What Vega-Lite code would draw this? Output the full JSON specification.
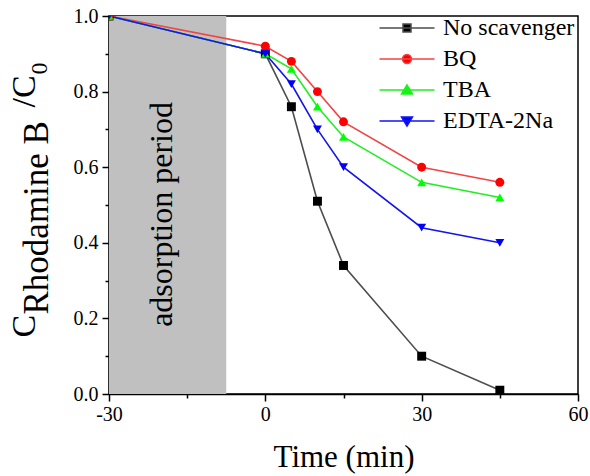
{
  "$schema": "https://vega.github.io/schema/vega-lite/v6.json",
  "width": 469,
  "height": 378,
  "autosize": {"type": "none"},
  "padding": {"left": 109, "top": 16, "right": 12, "bottom": 82},
  "background": "white",
  "config": {
    "font": "Liberation Serif",
    "view": {"stroke": "black", "strokeWidth": 1.5},
    "style": {"guide-label": {"font": "Liberation Serif"}, "guide-title": {"font": "Liberation Serif"}},
    "axis": {
      "grid": false,
      "domainColor": "black",
      "domainWidth": 1.5,
      "tickColor": "black",
      "tickWidth": 1.5,
      "labelColor": "black",
      "titleColor": "black",
      "labelFont": "Liberation Serif",
      "titleFont": "Liberation Serif",
      "titleFontWeight": "normal",
      "labelFontSize": 20,
      "labelFlush": false,
      "labelOverlap": false
    },
    "legend": {"labelFont": "Liberation Serif"}
  },
  "datasets": {
    "main": [
      {"series": "No scavenger", "t": -30, "c": 1.0},
      {"series": "No scavenger", "t": 0, "c": 0.9},
      {"series": "No scavenger", "t": 5, "c": 0.76},
      {"series": "No scavenger", "t": 10, "c": 0.51},
      {"series": "No scavenger", "t": 15, "c": 0.34},
      {"series": "No scavenger", "t": 30, "c": 0.1},
      {"series": "No scavenger", "t": 45, "c": 0.01},
      {"series": "BQ", "t": -30, "c": 1.0},
      {"series": "BQ", "t": 0, "c": 0.92},
      {"series": "BQ", "t": 5, "c": 0.88},
      {"series": "BQ", "t": 10, "c": 0.8},
      {"series": "BQ", "t": 15, "c": 0.72},
      {"series": "BQ", "t": 30, "c": 0.6},
      {"series": "BQ", "t": 45, "c": 0.56},
      {"series": "TBA", "t": -30, "c": 1.0},
      {"series": "TBA", "t": 0, "c": 0.9},
      {"series": "TBA", "t": 5, "c": 0.86},
      {"series": "TBA", "t": 10, "c": 0.76},
      {"series": "TBA", "t": 15, "c": 0.68},
      {"series": "TBA", "t": 30, "c": 0.56},
      {"series": "TBA", "t": 45, "c": 0.52},
      {"series": "EDTA-2Na", "t": -30, "c": 1.0},
      {"series": "EDTA-2Na", "t": 0, "c": 0.9},
      {"series": "EDTA-2Na", "t": 5, "c": 0.82},
      {"series": "EDTA-2Na", "t": 10, "c": 0.7},
      {"series": "EDTA-2Na", "t": 15, "c": 0.6},
      {"series": "EDTA-2Na", "t": 30, "c": 0.44},
      {"series": "EDTA-2Na", "t": 45, "c": 0.4}
    ]
  },
  "layer": [
    {
      "data": {"values": [{"start": -30, "end": -7.5, "lo": 0, "hi": 1}]},
      "mark": {"type": "rect", "color": "#c0c0c0"},
      "encoding": {
        "x": {
          "field": "start", "type": "quantitative",
          "scale": {"domain": [-30, 60], "nice": false, "zero": false},
          "axis": {
            "orient": "bottom", "values": [-30, 0, 30, 60], "tickSize": 7, "labelPadding": 3,
            "labelExpr": "'' + datum.value", "labelFont": "Liberation Serif",
            "title": "Time (min)", "titleFontSize": 31, "titleY": 72, "titleBaseline": "alphabetic"
          }
        },
        "x2": {"field": "end"},
        "y": {
          "field": "lo", "type": "quantitative",
          "scale": {"domain": [0, 1], "nice": false, "zero": false},
          "axis": {
            "orient": "left", "values": [0, 0.2, 0.4, 0.6, 0.8, 1.0], "format": ".1f", "tickSize": 7, "labelPadding": 4,
            "labelFont": "Liberation Serif",
            "title": "C", "titleFontSize": 34, "titleX": -75, "titleY": 321, "titleAlign": "left", "titleBaseline": "alphabetic", "titleAngle": 270
          }
        },
        "y2": {"field": "hi"}
      }
    },
    {
      "data": {"values": [{"label": "adsorption period"}]},
      "mark": {"type": "text", "angle": 270, "fontSize": 32, "font": "Liberation Serif", "color": "black", "align": "center", "baseline": "middle"},
      "encoding": {
        "x": {
          "datum": -19.8, "type": "quantitative",
          "axis": {"orient": "bottom", "values": [-15, 15, 45], "tickSize": 4, "labels": false, "domain": false, "title": null}
        },
        "y": {
          "datum": 0.475, "type": "quantitative",
          "axis": {
            "orient": "left", "values": [0.1, 0.3, 0.5, 0.7, 0.9], "tickSize": 4, "labels": false, "domain": false,
            "title": "Rhodamine B", "titleFontSize": 35, "titleX": -62, "titleY": 298, "titleAlign": "left", "titleBaseline": "alphabetic", "titleAngle": 270
          }
        },
        "text": {"field": "label"}
      }
    },
    {
      "data": {"name": "main"},
      "mark": {"type": "line", "strokeWidth": 1.6, "clip": true},
      "encoding": {
        "x": {"field": "t", "type": "quantitative", "axis": null},
        "y": {
          "field": "c", "type": "quantitative",
          "axis": {
            "orient": "left", "labels": false, "ticks": false, "domain": false,
            "title": "/C", "titleFontSize": 34, "titleX": -75, "titleY": 91, "titleAlign": "left", "titleBaseline": "alphabetic", "titleAngle": 270
          }
        },
        "color": {
          "field": "series", "type": "nominal",
          "scale": {"domain": ["No scavenger", "BQ", "TBA", "EDTA-2Na"], "range": ["#4d4d4d", "#f24444", "#22ee22", "#1414f0"]},
          "legend": null
        },
        "order": {"field": "t"}
      }
    },
    {
      "data": {"name": "main"},
      "mark": {"type": "point", "filled": true, "opacity": 1, "size": 80, "clip": true},
      "encoding": {
        "x": {"field": "t", "type": "quantitative", "axis": null},
        "y": {
          "field": "c", "type": "quantitative",
          "axis": {
            "orient": "left", "labels": false, "ticks": false, "domain": false,
            "title": "0", "titleFontSize": 24, "titleX": -63, "titleY": 58, "titleAlign": "left", "titleBaseline": "alphabetic", "titleAngle": 270
          }
        },
        "color": {
          "field": "series", "type": "nominal",
          "scale": {"domain": ["No scavenger", "BQ", "TBA", "EDTA-2Na"], "range": ["#000000", "#ff0000", "#00ff00", "#0000ff"]},
          "legend": null
        },
        "shape": {
          "field": "series", "type": "nominal",
          "scale": {"domain": ["No scavenger", "BQ", "TBA", "EDTA-2Na"], "range": ["square", "circle", "triangle-up", "triangle-down"]},
          "legend": null
        }
      }
    },
    {
      "data": {"values": []},
      "mark": {"type": "point", "filled": true, "opacity": 1, "strokeWidth": 1.5},
      "encoding": {
        "color": {
          "field": "series", "type": "nominal",
          "scale": {"domain": ["No scavenger", "BQ", "TBA", "EDTA-2Na"], "range": ["#000000", "#ff0000", "#00ff00", "#0000ff"]},
          "legend": {
            "title": null, "orient": "none", "legendX": 286, "legendY": 0, "padding": 0,
            "labelFontSize": 24, "labelFont": "Liberation Serif", "labelColor": "black",
            "symbolSize": 400, "symbolStrokeWidth": 1.5, "labelOffset": 24, "rowPadding": 7, "labelLimit": 300
          }
        },
        "stroke": {
          "field": "series", "type": "nominal",
          "scale": {"domain": ["No scavenger", "BQ", "TBA", "EDTA-2Na"], "range": ["#4d4d4d", "#f24444", "#22ee22", "#1414f0"]},
          "legend": {
            "title": null, "orient": "none", "legendX": 286, "legendY": 0, "padding": 0,
            "labelFontSize": 24, "labelFont": "Liberation Serif", "labelColor": "black",
            "symbolSize": 400, "symbolStrokeWidth": 1.5, "labelOffset": 24, "rowPadding": 7, "labelLimit": 300
          }
        },
        "shape": {
          "field": "series", "type": "nominal",
          "scale": {
            "domain": ["No scavenger", "BQ", "TBA", "EDTA-2Na"],
            "range": [
              "M-2.75,0H2.75M-0.4,-0.4H0.4V0.4H-0.4Z",
              "M-2.75,0H2.75M-0.45,0A0.45,0.45 0 1,0 0.45,0A0.45,0.45 0 1,0 -0.45,0Z",
              "M-2.75,0H2.75M0,-0.5L0.55,0.4H-0.55Z",
              "M-2.75,0H2.75M0,0.5L-0.55,-0.4H0.55Z"
            ]
          },
          "legend": {
            "title": null, "orient": "none", "legendX": 286, "legendY": 0, "padding": 0,
            "labelFontSize": 24, "labelFont": "Liberation Serif", "labelColor": "black",
            "symbolSize": 400, "symbolStrokeWidth": 1.5, "labelOffset": 24, "rowPadding": 7, "labelLimit": 300
          }
        }
      }
    }
  ],
  "resolve": {
    "axis": {"x": "independent", "y": "independent"},
    "scale": {"color": "independent", "shape": "independent", "stroke": "independent"}
  }
}
